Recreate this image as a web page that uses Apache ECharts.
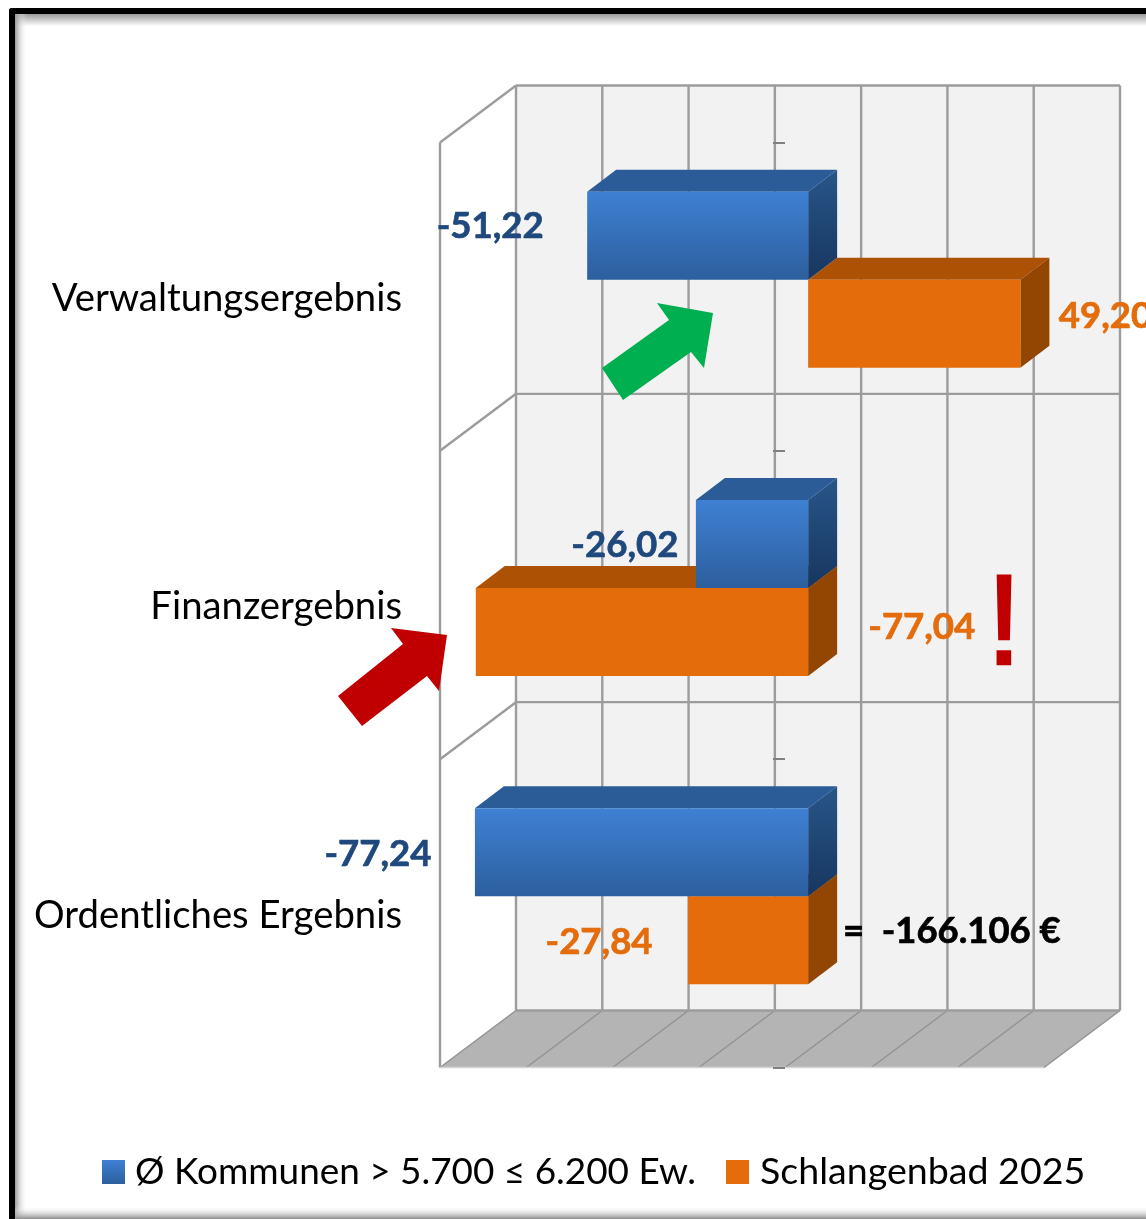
<!DOCTYPE html>
<html><head><meta charset="utf-8">
<style>html,body{margin:0;padding:0;background:#fff}#c{width:1146px;height:1219px}</style>
<script src="https://cdn.jsdelivr.net/npm/echarts@6/dist/echarts.min.js"></script></head>
<body><div id="c"></div>
<script>
const categories = ['Verwaltungsergebnis', 'Finanzergebnis', 'Ordentliches Ergebnis'];
const seriesNames = ['Ø Kommunen > 5.700 ≤ 6.200 Ew.', 'Schlangenbad 2025'];
const kommunenValues = [-51.22, -26.02, -77.24];
const schlangenbadValues = [49.20, -77.04, -27.84];
const axisTicks = [-80, -60, -40, -20, 0, 20, 40, 60];

// Styling / layout
const FONT = 'Lato, Carlito, sans-serif';
const WALL = {dx: 76, dy: -57};
const BAR = {dx: 23, dy: -17, ddx: 29, ddy: -22, heightRatio: 0.2854};
const BLUE_LABEL = [[-97, -10], [-71, 1], [-97, 1]];
const ORANGE_LABEL = [[85, -8], [446, -5], [-89, 1]];
const GRID_LINE = '#9c9c9c';
const vgrad = (a, b) => new echarts.graphic.LinearGradient(0, 0, 0, 1, [{offset: 0, color: a}, {offset: 1, color: b}]);
const hgrad = (a, b) => new echarts.graphic.LinearGradient(0, 0, 1, 0, [{offset: 0, color: a}, {offset: 1, color: b}]);
const BLUE = {front: () => vgrad('#3f80d3', '#2c5f9e'), top: () => '#2b5c97', side: () => vgrad('#285689', '#17365f')};
const ORANGE = {front: () => '#e46c0a', top: () => '#ad5104', side: () => '#934502'};

function line(x1, y1, x2, y2, color, width) {
  return {type: 'line', shape: {x1, y1, x2, y2}, style: {stroke: color, lineWidth: width}};
}
function poly(points, fill) {
  return {type: 'polygon', shape: {points}, style: {fill, stroke: null}};
}
function renderWalls(params, api) {
  const cs = params.coordSys, kids = [];
  const L = cs.x, T = cs.y, R = cs.x + cs.width, B = cs.y + cs.height;
  const d = WALL;
  kids.push(poly([[L + d.dx, T + d.dy], [R + d.dx, T + d.dy], [R + d.dx, B + d.dy], [L + d.dx, B + d.dy]], '#f2f2f2'));
  kids.push(poly([[L, B], [L + d.dx, B + d.dy], [R + d.dx, B + d.dy], [R, B]], '#b4b4b4'));
  axisTicks.forEach(v => {
    const x = api.coord([v, 0])[0];
    kids.push(line(x + d.dx, T + d.dy, x + d.dx, B + d.dy, GRID_LINE, 2.4));
    kids.push(line(x, B, x + d.dx, B + d.dy, '#939393', 1.5));
  });
  const band = cs.height / categories.length;
  for (let i = 0; i <= categories.length; i++) {
    const y = T + band * i;
    kids.push(line(L + d.dx, y + d.dy, R + d.dx, y + d.dy, GRID_LINE, 2.4));
    if (i < categories.length) kids.push(line(L, y, L + d.dx, y + d.dy, GRID_LINE, 2.4));
  }
  kids.push(line(L, T, L, B, GRID_LINE, 2.4));
  kids.push(line(L, B, R, B, '#d4d4d4', 1.5));
  return {type: 'group', children: kids};
}
function barRenderer(palette, slot, offsets) {
  return function (params, api) {
    const value = api.value(0), cat = api.value(1);
    const zero = api.coord([0, cat]), end = api.coord([value, cat]);
    const band = api.size([0, 1])[1], h = band * BAR.heightRatio;
    const y0 = zero[1] + BAR.dy + (slot === 0 ? -h : 0), y1 = y0 + h;
    const x0 = Math.min(zero[0], end[0]) + BAR.dx, x1 = Math.max(zero[0], end[0]) + BAR.dx;
    const off = offsets[params.dataIndex];
    const ax = value < 0 ? x0 : x1;
    const tc = palette === BLUE ? '#1f497d' : '#e46c0a';
    return {type: 'group', children: [
      poly([[x0, y0], [x1, y0], [x1 + BAR.ddx, y0 + BAR.ddy], [x0 + BAR.ddx, y0 + BAR.ddy]], palette.top()),
      poly([[x1, y0], [x1 + BAR.ddx, y0 + BAR.ddy], [x1 + BAR.ddx, y1 + BAR.ddy], [x1, y1]], palette.side()),
      {type: 'rect', shape: {x: x0, y: y0, width: x1 - x0, height: h}, style: {fill: palette.front()}},
      {type: 'text', x: ax + off[0], y: (y0 + y1) / 2 + off[1] + 0.5, z2: 50, style: {
        text: value.toFixed(2).replace('.', ','), font: 'bold 36.6px ' + FONT,
        fill: tc, stroke: tc, lineWidth: 0.7, align: 'center', verticalAlign: 'middle'}}
    ]};
  };
}
const arrowGreen = [[713,313],[704,368],[691,352],[623,400],[602,368],[669,320],[657,303]];
const arrowRed = [[447,635],[439,691],[427,676],[362,726],[338,696],[403,644],[391,628]];

const chart = echarts.init(document.getElementById('c'), null, {renderer: 'canvas'});
chart.setOption({
  animation: false,
  backgroundColor: '#ffffff',
  grid: {left: 440, top: 142.5, width: 604, height: 925, containLabel: false},
  xAxis: {type: 'value', min: -80, max: 60, interval: 20, show: false},
  yAxis: [
    {type: 'category', inverse: true, data: categories, position: 'left',
     axisLine: {show: false, onZero: false}, axisTick: {show: false}, splitLine: {show: false},
     axisLabel: {margin: 38, fontFamily: FONT, fontSize: 38.3, color: '#000', verticalAlign: 'top', lineHeight: 4}},
    {type: 'category', inverse: true, data: categories, position: 'left', offset: -345, z: 20,
     axisLine: {show: false, onZero: false}, axisLabel: {show: false}, splitLine: {show: false},
     axisTick: {show: true, length: 12, lineStyle: {color: '#808080', width: 2}}}
  ],
  legend: {
    left: 102, top: 1153, padding: 0, itemWidth: 23, itemHeight: 24, itemGap: 30, selectedMode: false,
    data: [
      {name: seriesNames[0], icon: 'rect', itemStyle: {color: vgrad('#3f80d3', '#2c5f9e')},
       textStyle: {fontFamily: FONT, fontSize: 36.9, color: '#000', padding: [0, 0, 0, 5]}},
      {name: seriesNames[1], icon: 'rect', itemStyle: {color: '#e46c0a'},
       textStyle: {fontFamily: FONT, fontSize: 37.6, color: '#000', padding: [0, 0, 0, 6]}}
    ],
    textStyle: {fontFamily: FONT, fontSize: 37, color: '#000'}
  },
  graphic: [
    {type: 'rect', z: -5, shape: {x: 15, y: 14, width: 1131, height: 12}, style: {fill: vgrad('#9a9a9a', '#ffffff')}, silent: true},
    {type: 'rect', z: -5, shape: {x: 15, y: 14, width: 12, height: 1205}, style: {fill: hgrad('#9a9a9a', 'rgba(255,255,255,0)')}, silent: true},
    {type: 'rect', z: -5, shape: {x: 15, y: 1206, width: 1131, height: 13}, style: {fill: vgrad('rgba(255,255,255,0)', '#8c8c8c')}, silent: true},
    {type: 'rect', z: -4, shape: {x: 9, y: 8, width: 1137, height: 6, r: [3, 0, 0, 0]}, style: {fill: '#000'}, silent: true},
    {type: 'rect', z: -4, shape: {x: 9, y: 8, width: 6, height: 1211, r: [3, 0, 0, 0]}, style: {fill: '#000'}, silent: true},
    {type: 'polygon', z: 100, shape: {points: arrowGreen}, style: {fill: '#00b050'}},
    {type: 'polygon', z: 100, shape: {points: arrowRed}, style: {fill: '#c00000'}},
    {type: 'text', z: 100, x: 843, y: 931, style: {text: '=  -166.106 €', font: 'bold 36.4px ' + FONT, fill: '#000', stroke: '#000', lineWidth: 0.7, verticalAlign: 'middle'}},
    {type: 'text', z: 100, x: 1004, y: 629, style: {text: '!', font: '128px "Liberation Sans"', fill: '#c00000', stroke: '#c00000', lineWidth: 2.5, align: 'center', verticalAlign: 'middle'}}
  ],
  series: [
    {name: 'walls', type: 'custom', z: 1, silent: true, data: [[0, 0]], renderItem: renderWalls, encode: {x: 0, y: 1}},
    {name: seriesNames[0], type: 'custom', z: 4, renderItem: barRenderer(BLUE, 0, BLUE_LABEL),
     itemStyle: {color: '#3f80d3'}, encode: {x: 0, y: 1},
     data: kommunenValues.map((v, i) => [v, i])},
    {name: seriesNames[1], type: 'custom', z: 3, renderItem: barRenderer(ORANGE, 1, ORANGE_LABEL),
     itemStyle: {color: '#e46c0a'}, encode: {x: 0, y: 1},
     data: schlangenbadValues.map((v, i) => [v, i])}
  ]
});
</script></body></html>
